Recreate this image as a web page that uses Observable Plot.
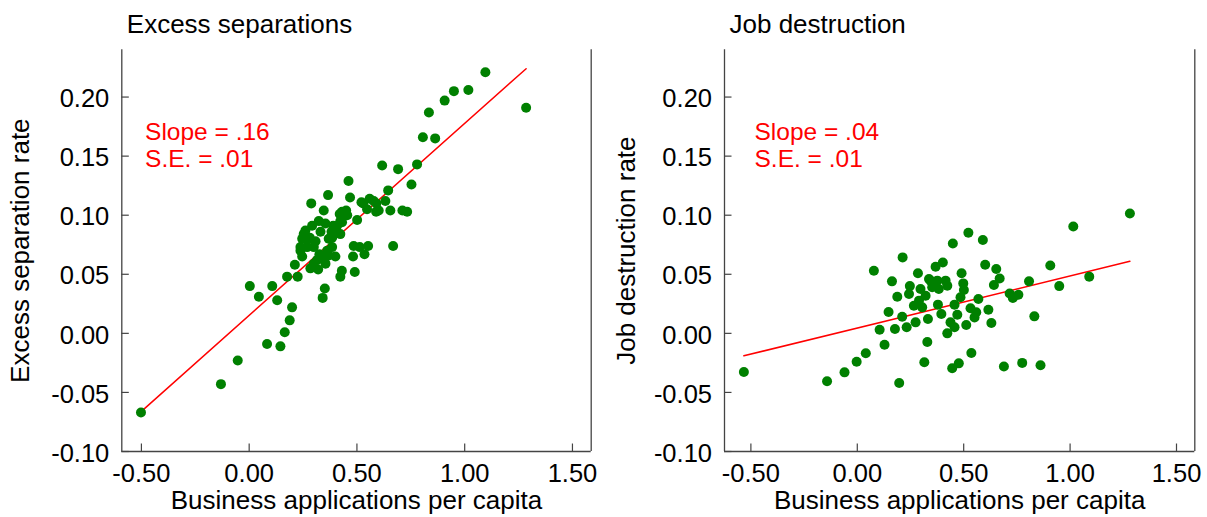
<!DOCTYPE html>
<html><head><meta charset="utf-8">
<script src="https://cdn.jsdelivr.net/npm/d3@7"></script>
<script src="https://cdn.jsdelivr.net/npm/@observablehq/plot@0.6"></script>
<style>
body{margin:0;background:#fff;}
#wrap{display:flex;width:1207px;height:517px;overflow:hidden;}
svg{display:block;flex:none;}
</style></head><body><div id="wrap"></div>
<script>
// ---- Data ----
const titles = ["Excess separations", "Job destruction"];
const yLabels = ["Excess separation rate", "Job destruction rate"];
const xLabel = "Business applications per capita";
const xTicks = [-0.5, 0, 0.5, 1, 1.5];
const yTicks = [-0.10, -0.05, 0, 0.05, 0.10, 0.15, 0.20];
const yDomain = [-0.10, 0.24];
const sepXDomain = [-0.591, 1.587];
const jdXDomain = [-0.624, 1.586];

// Excess separations: business applications (x) vs excess separation rate (y)
const sepX = [0.617,0.691,0.779,0.753,0.461,0.366,0.468,0.288,0.346,0.521,0.559,0.590,0.632,0.645,0.547,0.601,0.655,0.711,0.733,0.431,
  0.442,0.423,0.501,0.323,0.292,0.390,0.403,0.261,0.331,0.382,0.246,0.281,0.369,0.423,0.238,0.269,0.300,0.485,0.513,0.552,
  0.668,0.246,0.326,0.362,0.400,0.482,0.535,0.212,0.284,0.320,0.354,0.430,0.423,0.490,0.176,0.225,0.003,0.107,0.045,0.130,
  0.351,0.341,0.199,0.188,0.165,0.083,0.145,0.253,0.308,0.385,0.408,0.431,0.450,0.420,0.315,0.339,0.300,0.385,0.369,0.269,
  0.238,0.354,0.455,0.589,0.529,0.578,1.096,0.950,1.017,0.907,1.285,0.834,0.806,0.863,-0.053,-0.131,-0.502];
const sepY = [0.142,0.139,0.143,0.126,0.129,0.117,0.115,0.110,0.104,0.111,0.114,0.110,0.112,0.121,0.105,0.104,0.104,0.104,0.103,0.103,
  0.100,0.095,0.096,0.095,0.091,0.091,0.088,0.087,0.086,0.086,0.080,0.081,0.080,0.084,0.073,0.073,0.073,0.074,0.073,0.074,
  0.074,0.065,0.067,0.070,0.065,0.065,0.067,0.058,0.055,0.054,0.059,0.053,0.048,0.052,0.048,0.048,0.040,0.040,0.031,0.028,
  0.038,0.030,0.022,0.011,0.001,-0.009,-0.011,0.084,0.078,0.081,0.091,0.094,0.104,0.101,0.062,0.064,0.059,0.073,0.066,0.079,
  0.070,0.093,0.100,0.103,0.110,0.112,0.221,0.205,0.206,0.197,0.191,0.187,0.166,0.165,-0.023,-0.043,-0.067];
const sepFitX = [-0.500, 1.285];
const sepFitY = [-0.066, 0.224];
const sepNotes = ["Slope = .16", "S.E. = .01"];

// Job destruction: business applications (x) vs job destruction rate (y)
const jdX = [1.281,1.015,0.522,0.449,0.590,0.213,0.078,0.163,0.285,0.368,0.402,0.490,0.601,0.653,0.669,0.642,0.907,0.807,0.949,1.090,
  0.716,0.731,0.757,0.832,0.247,0.188,0.243,0.147,0.105,0.177,0.128,0.040,-0.003,0.329,0.315,0.536,0.477,0.446,0.197,0.689,
  0.775,0.861,0.337,0.376,0.415,0.423,0.352,0.297,0.383,0.501,0.498,0.485,0.457,0.569,0.532,0.559,0.616,0.630,0.512,0.470,
  0.438,0.423,0.457,0.266,0.305,0.332,0.379,0.395,0.274,0.232,0.211,0.551,0.344,0.290,0.321,-0.533,-0.142,-0.060];
const jdY = [0.1015,0.0905,0.0852,0.0761,0.079,0.0643,0.053,0.044,0.0508,0.0564,0.060,0.0508,0.058,0.0545,0.0465,0.041,0.0575,0.044,0.040,0.048,
  0.0338,0.030,0.0327,0.0144,0.040,0.031,0.0333,0.018,0.003,0.0037,-0.0096,-0.0169,-0.024,-0.0073,-0.0245,-0.0166,-0.0254,-0.0296,-0.042,-0.028,
  -0.025,-0.027,0.046,0.0446,0.0446,0.0403,0.039,0.0376,0.0376,0.0367,0.0423,0.0305,0.0243,0.0291,0.0212,0.0178,0.020,0.0088,0.0071,0.0158,
  0.0093,0.000,0.0051,0.0234,0.022,0.0122,0.0243,0.0164,0.0093,0.0051,0.0141,0.0135,0.0446,0.0277,0.0319,-0.0327,-0.0405,-0.033];
const jdFitX = [-0.533, 1.281];
const jdFitY = [-0.019, 0.061];
const jdNotes = ["Slope = .04", "S.E. = .01"];

// annotation anchor (data coordinates of the two-line note block)
const noteX = -0.483;
const noteY = 0.1599;

// ---- Drawing ----
const FONT = "'Liberation Sans', Arial, Helvetica, sans-serif";
const AXIS = "#444";

function panel({W, mL, mR, title, ylabel, xs, ys, fitX, fitY, notes, xDomain, ylabDx}) {
  const H = 517, mT = 49.3, mB = 66;
  const plotW = W - mL - mR, plotH = H - mT - mB;
  const pts = xs.map((x, i) => ({x, y: ys[i]}));
  const fit = fitX.map((x, i) => ({x, y: fitY[i]}));
  const noteData = [{t: notes.join("\n"), x: noteX, y: noteY}];
  return Plot.plot({
    width: W, height: H,
    marginLeft: mL, marginRight: mR, marginTop: mT, marginBottom: mB,
    style: {fontFamily: FONT, background: "white", overflow: "visible", color: "#000"},
    x: {domain: xDomain, axis: null},
    y: {domain: yDomain, axis: null},
    marks: [
      Plot.ruleX(xDomain, {stroke: AXIS, strokeWidth: 1.3}),
      Plot.ruleY([yDomain[0]], {stroke: AXIS, strokeWidth: 1.3}),
      Plot.tickY(yTicks, {y: d => d, stroke: AXIS, strokeWidth: 1.2, insetRight: plotW - 7.5}),
      Plot.tickX(xTicks, {x: d => d, stroke: AXIS, strokeWidth: 1.2, insetTop: plotH - 7.5}),
      Plot.axisY(yTicks, {tickSize: 0, tickPadding: 12.5, fontSize: 25.5, dy: 2, label: null,
        tickFormat: d => d.toFixed(2), fill: "#000"}),
      Plot.axisX(xTicks, {tickSize: 0, tickPadding: 12, fontSize: 25.5, label: null,
        tickFormat: d => d.toFixed(2), fill: "#000"}),
      Plot.line(fit, {x: "x", y: "y", stroke: "#ff0000", strokeWidth: 1.5}),
      Plot.dot(pts, {x: "x", y: "y", r: 5, fill: "#008000", stroke: null}),
      Plot.text(noteData, {x: "x", y: "y", text: "t", fill: "#ff0000", fontSize: 24.5,
        textAnchor: "start", lineAnchor: "middle", lineHeight: 1.1}),
      Plot.text([title], {text: d => d, frameAnchor: "top-left", dx: 5, dy: -25.3, fontSize: 26,
        textAnchor: "start", lineAnchor: "middle", fill: "#000"}),
      Plot.text([xLabel], {text: d => d, frameAnchor: "bottom", dy: 49, fontSize: 26,
        textAnchor: "middle", lineAnchor: "middle", fill: "#000"}),
      Plot.text([ylabel], {text: d => d, frameAnchor: "left", dx: ylabDx, rotate: -90, fontSize: 26,
        textAnchor: "middle", lineAnchor: "middle", fill: "#000"})
    ]
  });
}

const wrap = document.getElementById("wrap");
wrap.append(panel({W: 603, mL: 121.3, mR: 12.3, title: titles[0], ylabel: yLabels[0],
  xs: sepX, ys: sepY, fitX: sepFitX, fitY: sepFitY, notes: sepNotes, xDomain: sepXDomain, ylabDx: -101.3}));
wrap.append(panel({W: 604, mL: 121, mR: 12.7, title: titles[1], ylabel: yLabels[1],
  xs: jdX, ys: jdY, fitX: jdFitX, fitY: jdFitY, notes: jdNotes, xDomain: jdXDomain, ylabDx: -97.5}));
</script></body></html>
